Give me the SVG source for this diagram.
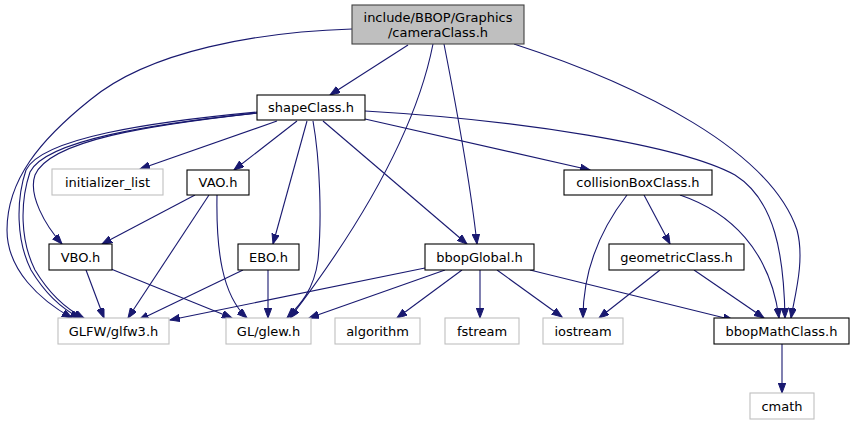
<svg xmlns="http://www.w3.org/2000/svg" width="855" height="425" viewBox="0 0 855 425">
<defs>
<style>
.n rect{fill:#ffffff;stroke:#000000;stroke-width:1.1}
.g rect{fill:#ffffff;stroke:#bfbfbf;stroke-width:1.1}
.r rect{fill:#bfbfbf;stroke:#404040;stroke-width:1.1}
text{font-family:"DejaVu Sans","Liberation Sans",sans-serif;font-size:13px;fill:#000000;text-anchor:middle}
.e path{fill:none;stroke:#191970;stroke-width:1.1;marker-end:url(#a)}
</style>
<marker id="a" markerUnits="userSpaceOnUse" markerWidth="11" markerHeight="8" refX="10" refY="3.75" orient="auto">
<path d="M0,0 L10,3.75 L0,7.5 z" fill="#191970" stroke="#191970" stroke-width="1"/>
</marker>
</defs>
<rect width="855" height="425" fill="#ffffff"/>
<g id="edges" class="e">
<path d="M408,45 L330,95"/>
<path d="M352,29 C260,32 150,50 90,100 C40,140 7,180 7,230 C7,270 40,300 72,318"/>
<path d="M433,44 C420,110 380,200 290,318"/>
<path d="M444,44 C455,100 470,180 477,244"/>
<path d="M514,44 C640,85 770,150 797,230 C805,260 795,295 791,318"/>
<path d="M277,121 L140,169"/>
<path d="M297,121 L234,170"/>
<path d="M257,113 C150,125 50,140 35,175 C28,195 45,225 62,244"/>
<path d="M257,112 C150,122 42,138 26,170 C16,200 16,240 31,270 C46,295 64,310 80,318"/>
<path d="M257,113 C152,124 46,140 30,172 C20,202 20,240 35,270 C50,295 68,310 84,318"/>
<path d="M313,121 C320,160 322,220 318,260 C314,290 300,305 287,318"/>
<path d="M307,121 L273,244"/>
<path d="M323,121 L467,244"/>
<path d="M365,119 L590,170"/>
<path d="M365,111 C520,120 680,145 735,175 C775,200 784,255 785,318"/>
<path d="M195,195 L102,244"/>
<path d="M209,195 L128,318"/>
<path d="M217,195 C216,250 222,295 247,318"/>
<path d="M86,270 L104,318"/>
<path d="M111,269 L232,318"/>
<path d="M243,270 L139,320"/>
<path d="M268,270 L268,318"/>
<path d="M425,268 L170,320"/>
<path d="M445,270 L309,318"/>
<path d="M462,270 L397,318"/>
<path d="M480,270 L480,318"/>
<path d="M497,270 L562,317"/>
<path d="M530,270 L733,320"/>
<path d="M627,195 C600,230 583,270 583,318"/>
<path d="M644,195 L670,244"/>
<path d="M680,195 C730,212 770,250 779,318"/>
<path d="M660,270 L599,318"/>
<path d="M694,270 L764,318"/>
<path d="M782,344 L782,393"/>
</g>
<g id="root" class="r"><rect x="352" y="5" width="172" height="39"/><text x="438" y="22">include/BBOP/Graphics</text><text x="438" y="37">/cameraClass.h</text></g>
<g id="shapeClass" class="n"><rect x="257" y="95" width="108" height="25"/><text x="311" y="112">shapeClass.h</text></g>
<g id="initializer_list" class="g"><rect x="52" y="169" width="111" height="26"/><text x="107.5" y="187">initializer_list</text></g>
<g id="VAO" class="n"><rect x="187" y="170" width="62" height="25"/><text x="218" y="187">VAO.h</text></g>
<g id="collisionBoxClass" class="n"><rect x="564" y="170" width="148" height="25"/><text x="638" y="187">collisionBoxClass.h</text></g>
<g id="VBO" class="n"><rect x="49" y="244" width="63" height="26"/><text x="80.5" y="262">VBO.h</text></g>
<g id="EBO" class="n"><rect x="238" y="244" width="61" height="26"/><text x="268.5" y="262">EBO.h</text></g>
<g id="bbopGlobal" class="n"><rect x="425" y="244" width="109" height="26"/><text x="479.5" y="262">bbopGlobal.h</text></g>
<g id="geometricClass" class="n"><rect x="609" y="244" width="135" height="26"/><text x="676.5" y="262">geometricClass.h</text></g>
<g id="glfw3" class="g"><rect x="58" y="318" width="111" height="26"/><text x="113.5" y="336">GLFW/glfw3.h</text></g>
<g id="glew" class="g"><rect x="226" y="318" width="85" height="26"/><text x="268.5" y="336">GL/glew.h</text></g>
<g id="algorithm" class="g"><rect x="335" y="318" width="85" height="26"/><text x="377.5" y="336">algorithm</text></g>
<g id="fstream" class="g"><rect x="445" y="318" width="74" height="26"/><text x="482" y="336">fstream</text></g>
<g id="iostream" class="g"><rect x="543" y="318" width="80" height="26"/><text x="583" y="336">iostream</text></g>
<g id="bbopMathClass" class="n"><rect x="714" y="318" width="135" height="26"/><text x="781.5" y="336">bbopMathClass.h</text></g>
<g id="cmath" class="g"><rect x="750" y="393" width="64" height="26"/><text x="782" y="411">cmath</text></g>
</svg>
